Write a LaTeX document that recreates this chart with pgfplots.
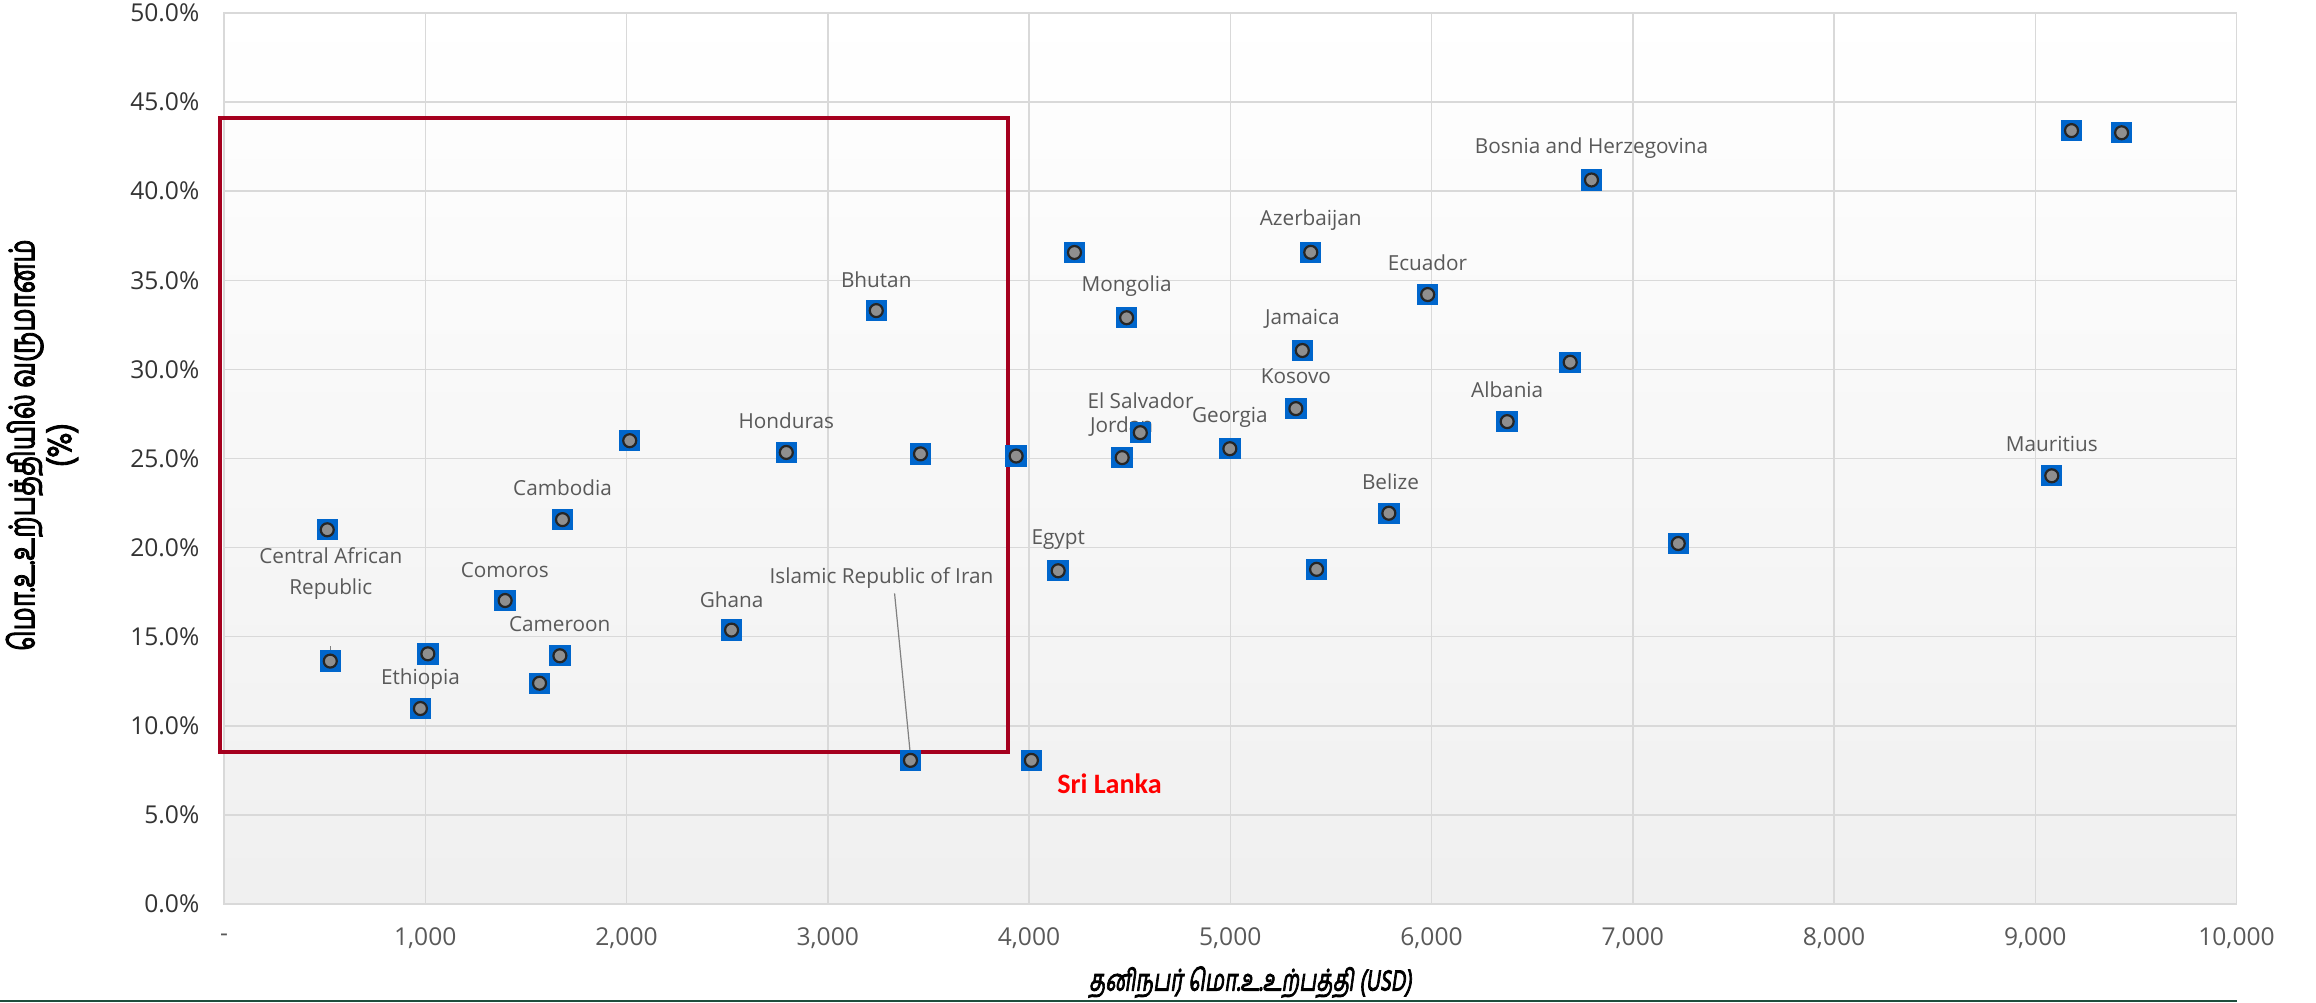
\documentclass[border=0pt]{standalone}
\usepackage{fontspec}
\setmainfont{Open Sans}
\newfontfamily\calibri{Carlito}
\newfontfamily\tamilb[Script=Tamil,FakeBold=3]{Hind Madurai}
\newfontfamily\tamilbsl[Script=Tamil,FakeBold=3,FakeSlant=0.2]{Hind Madurai}
\usepackage{graphicx}
\usepackage{pgfplots}
\usepackage{pgfplotstable}
\pgfplotsset{compat=1.18}

\definecolor{textgray}{HTML}{595959}
\definecolor{gridgray}{HTML}{D9D9D9}
\definecolor{boxred}{HTML}{A5001E}
\definecolor{markblue}{HTML}{0066CC}
\definecolor{dotgray}{HTML}{8F8F8F}
\definecolor{rulegreen}{HTML}{1F4E3D}

% GDP per capita (USD), revenue (% of GDP)
\pgfplotstableread{
gdp  rev
513  21.00
528  13.63
1013 14.04
976  10.97
1397 17.03
1682 21.57
1669 13.93
1568 12.39
2016 26.00
2522 15.37
2794 25.34
3241 33.30
3461 25.26
3411 8.06
3936 25.14
4012 8.06
4145 18.70
4226 36.56
4485 32.90
4463 25.05
4553 26.45
4998 25.55
5358 31.06
5326 27.80
5400 36.57
5429 18.78
5788 21.93
5981 34.20
6376 27.07
6689 30.40
6795 40.63
7226 20.23
9082 24.03
9180 43.40
9429 43.28
}\countries

\begin{document}
\begin{tikzpicture}
\useasboundingbox (-22.4mm,-9.8mm) rectangle (209.2mm,90.4mm);
\begin{axis}[
    at={(0,0)}, anchor=south west,
    scale only axis, width=201.25mm, height=89.1mm,
    xmin=0, xmax=10000, ymin=0, ymax=50,
    xtick={0,1000,...,10000},
    xticklabels={-,{1,000},{2,000},{3,000},{4,000},{5,000},{6,000},{7,000},{8,000},{9,000},{10,000}},
    ytick={0,5,...,50},
    yticklabels={0.0\%,5.0\%,10.0\%,15.0\%,20.0\%,25.0\%,30.0\%,35.0\%,40.0\%,45.0\%,50.0\%},
    grid=major,
    major grid style={draw=gridgray, line width=0.15mm},
    axis line style={draw=gridgray, line width=0.15mm},
    tick style={draw=none},
    axis background/.style={shade, top color=white, bottom color=black!6},
    ticklabel style={font=\fontsize{7}{8}\selectfont},
    xticklabel style={anchor=center, yshift=-3.4mm, text=textgray},
    yticklabel style={anchor=east, inner sep=0pt, xshift=-2.4mm, text=black!80},
    clip=false,
]
\addplot[only marks, mark=square*, mark size=1mm,
    mark options={fill=markblue, draw=markblue}] table[x=gdp, y=rev] {\countries};
\addplot[only marks, mark=*, mark size=0.65mm,
    mark options={fill=dotgray, draw=black!85, line width=0.22mm}] table[x=gdp, y=rev] {\countries};

% highlight box
\draw[boxred, line width=0.4mm] (axis cs:-22,8.55) rectangle (axis cs:3897,44.1);

% leader lines
\draw[gray, line width=0.12mm] (axis cs:531,14.47) -- (axis cs:531,13.9);
\draw[gray, line width=0.12mm] (axis cs:3332,17.43) -- (axis cs:3411,8.32);

% data labels
\begin{scope}[every node/.style={font=\fontsize{5.9}{7}\selectfont, text=textgray, inner sep=0pt}]
\node[align=center] at (axis cs:531,18.56) {Central African\\[0.6mm]Republic};
\node at (axis cs:976,12.61) {Ethiopia};
\node at (axis cs:1395,18.76) {Comoros};
\node at (axis cs:1668,15.69) {Cameroon};
\node at (axis cs:1682,23.35) {Cambodia};
\node at (axis cs:2522,17.05) {Ghana};
\node at (axis cs:2794,27.1) {Honduras};
\node at (axis cs:3241,35.05) {Bhutan};
\node at (axis cs:3267,18.3) {Islamic Republic of Iran};
\node at (axis cs:4145,20.45) {Egypt};
\node at (axis cs:4485,34.68) {Mongolia};
\node at (axis cs:4554,28.23) {El Salvador};
\node at (axis cs:4460,26.8) {Jordan};
\node at (axis cs:4998,27.3) {Georgia};
\node at (axis cs:5400,38.36) {Azerbaijan};
\node at (axis cs:5358,32.85) {Jamaica};
\node at (axis cs:5326,29.6) {Kosovo};
\node at (axis cs:5980,36.0) {Ecuador};
\node at (axis cs:5796,23.7) {Belize};
\node at (axis cs:6376,28.87) {Albania};
\node at (axis cs:6795,42.4) {Bosnia and Herzegovina};
\node at (axis cs:9082,25.8) {Mauritius};
\end{scope}
\node[font=\calibri\bfseries\fontsize{8}{9}\selectfont, text=red, inner sep=0pt]
    at (axis cs:4400,6.75) {Sri Lanka};

% axis titles
\node[rotate=90, align=center, inner sep=0pt, font=\tamilb\fontsize{10}{10.5}\selectfont]
    at ([xshift=-18.2mm]rel axis cs:0,0.515) {\scalebox{0.74}[1]{மொ.உ.உற்பத்தியில் வருமானம்}\\\scalebox{0.85}[1]{(\%)}};
\node[inner sep=0pt, font=\tamilbsl\fontsize{8.5}{9}\selectfont]
    at ([yshift=-7.8mm]rel axis cs:0.51,0) {\scalebox{0.72}[1]{தனிநபர் மொ.உ.உற்பத்தி (USD)}};

% bottom rule
\draw[rulegreen, line width=0.2mm] ([yshift=-9.65mm]rel axis cs:0,0) ++(-22.4mm,0) -- ([yshift=-9.65mm]rel axis cs:1,0);
\end{axis}
\end{tikzpicture}
\end{document}
